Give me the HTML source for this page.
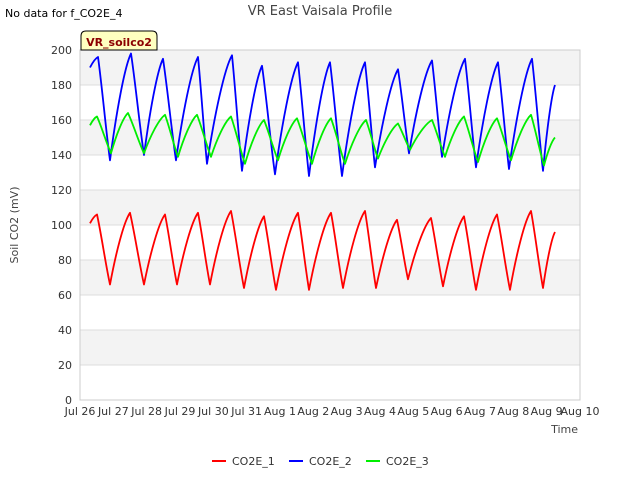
<!DOCTYPE html>
<html><head><meta charset="utf-8"><style>
body{margin:0;background:#fff;font-family:"Liberation Sans","DejaVu Sans",sans-serif}
svg text{font-family:"DejaVu Sans","Liberation Sans",sans-serif}
</style></head><body>
<svg id="chart" width="640" height="480" viewBox="0 0 640 480">
<rect width="640" height="480" fill="#fff"/>
<text x="5" y="17" font-size="11" fill="#000">No data for f_CO2E_4</text>
<text x="320" y="15" font-size="13" fill="#444" text-anchor="middle">VR East Vaisala Profile</text>
<g id="bands"></g>
<g id="grid"></g>
<rect x="80" y="50" width="500" height="350" fill="none" stroke="#ccc"/>
<g id="yticks"></g><g id="xticks"></g>
<text x="18" y="225" font-size="11" fill="#444" text-anchor="middle" transform="rotate(-90 18 225)">Soil CO2 (mV)</text>
<text x="578" y="433" font-size="11" fill="#444" text-anchor="end">Time</text>
<g id="series"></g>
<g>
<path d="M81,50 L81,36 Q81,31 86,31 L152,31 Q157,31 157,36 L157,50 Z" fill="#ffffc0" stroke="#000"/>
<text x="119" y="46" font-size="11" font-weight="bold" fill="#8b0000" text-anchor="middle">VR_soilco2</text>
</g>
<g id="legend"></g>
</svg>
<script>
const yTicks=[0,20,40,60,80,100,120,140,160,180,200];
const xTickLabels=["Jul 26","Jul 27","Jul 28","Jul 29","Jul 30","Jul 31","Aug 1","Aug 2","Aug 3","Aug 4","Aug 5","Aug 6","Aug 7","Aug 8","Aug 9","Aug 10"];
const seriesNames=["CO2E_1","CO2E_2","CO2E_3"];
const seriesColors=["#ff0000","#0000ff","#00ee00"];
const co2e1Days=[0.3,0.51,0.9,1.5,1.92,2.55,2.91,3.54,3.9,4.53,4.92,5.52,5.88,6.54,6.87,7.53,7.89,8.55,8.88,9.51,9.84,10.53,10.89,11.52,11.88,12.51,12.9,13.53,13.89,14.25];
const co2e1Vals=[101,106,66,107,66,106,66,107,66,108,64,105,63,107,63,107,64,108,64,103,69,104,65,105,63,106,63,108,64,96];
const co2e2Days=[0.3,0.54,0.9,1.53,1.92,2.49,2.88,3.54,3.81,4.56,4.86,5.46,5.85,6.54,6.87,7.5,7.86,8.55,8.85,9.54,9.87,10.56,10.86,11.55,11.88,12.54,12.87,13.56,13.89,14.25];
const co2e2Vals=[190,196,137,198,140,195,137,196,135,197,131,191,129,193,128,193,128,193,133,189,141,194,139,195,133,193,132,195,131,180];
const co2e3Days=[0.3,0.51,0.93,1.44,1.92,2.55,2.94,3.51,3.93,4.53,4.95,5.52,5.94,6.51,6.96,7.53,7.95,8.58,8.94,9.54,9.9,10.56,10.95,11.52,11.94,12.51,12.93,13.53,13.92,14.25];
const co2e3Vals=[157,162,141,164,141,163,139,163,139,162,135,160,137,161,135,161,135,160,138,158,143,160,139,162,136,161,137,163,134,150];

const NS="http://www.w3.org/2000/svg";
const X0=80,X1=580,Y0=400,Y1=50;
const xScale=d=>X0+d*(X1-X0)/(xTickLabels.length-1);
const yScale=v=>Y0-(v-yTicks[0])*(Y0-Y1)/(yTicks[yTicks.length-1]-yTicks[0]);
function mk(tag,attrs,parent){const e=document.createElementNS(NS,tag);for(const k in attrs)e.setAttribute(k,attrs[k]);parent.appendChild(e);return e;}
const bands=document.getElementById('bands'),grid=document.getElementById('grid'),yt=document.getElementById('yticks'),xt=document.getElementById('xticks');
for(let i=1;i<yTicks.length-1;i+=2){
  const b=mk('rect',{x:X0,y:yScale(yTicks[i+1]),width:X1-X0,height:yScale(yTicks[i])-yScale(yTicks[i+1]),fill:'#f3f3f3'},bands);
  
  
}
yTicks.forEach(v=>{
  const l=mk('line',{x1:X0,x2:X1,y1:yScale(v),y2:yScale(v),stroke:'#ddd'},grid);
  
  
  const t=mk('text',{x:X0-8,y:yScale(v)+4,'font-size':11,fill:'#333','text-anchor':'end'},yt);
  t.textContent=v;
  
  
});
xTickLabels.forEach((s,i)=>{
  const t=mk('text',{x:xScale(i),y:415,'font-size':11,fill:'#333','text-anchor':'middle'},xt);
  t.textContent=s;
  
  
});
function pathFor(days,vals){
  const P=days.map((d,i)=>[xScale(d),yScale(vals[i])]);
  let s='M'+P[0][0].toFixed(1)+','+P[0][1].toFixed(1);
  for(let i=0;i<P.length-1;i++){
    const a=P[i],b=P[i+1];
    const rising=b[1]<a[1];
    const dx=b[0]-a[0],dy=b[1]-a[1];
    let c1,c2;
    if(rising){c1=[a[0]+dx*0.3,a[1]+dy*0.45];c2=[a[0]+dx*0.7,a[1]+dy*0.88];}
    else{c1=[a[0]+dx*0.33,a[1]+dy*0.28];c2=[a[0]+dx*0.67,a[1]+dy*0.72];}
    s+=' C'+c1[0].toFixed(1)+','+c1[1].toFixed(1)+' '+c2[0].toFixed(1)+','+c2[1].toFixed(1)+' '+b[0].toFixed(1)+','+b[1].toFixed(1);
  }
  return s;
}
const sg=document.getElementById('series');
const allDays=[co2e1Days,co2e2Days,co2e3Days],allVals=[co2e1Vals,co2e2Vals,co2e3Vals];
[1,2,0].forEach(k=>{
  const p=mk('path',{d:pathFor(allDays[k],allVals[k]),fill:'none',stroke:seriesColors[k],'stroke-width':1.8,'stroke-linejoin':'round'},sg);
  
  
});
const lg=document.getElementById('legend');
const lx=[212,289,366];
seriesNames.forEach((n,i)=>{
  const g=mk('g',{},lg);
  
  
  mk('line',{x1:lx[i],x2:lx[i]+14,y1:461,y2:461,stroke:seriesColors[i],'stroke-width':2},g);
  const t=mk('text',{x:lx[i]+20,y:465,'font-size':11,fill:'#333'},g);
  t.textContent=n;
});
</script>
</body></html>
